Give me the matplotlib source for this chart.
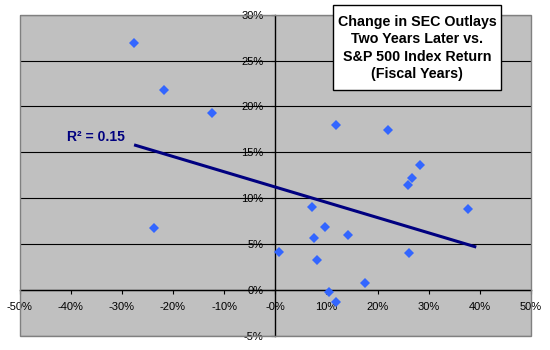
import numpy as np
import matplotlib
matplotlib.use('Agg')
import matplotlib.pyplot as plt
from matplotlib.patches import Rectangle
from matplotlib.ticker import PercentFormatter

plt.rcParams['font.family'] = ['Liberation Sans', 'DejaVu Sans']
plt.rcParams['axes.unicode_minus'] = False

# S&P 500 index return (x) vs change in SEC outlays two years later (y)
sp500_return = [-0.276, -0.217, -0.123, -0.238, 0.008, 0.118, 0.221, 0.283, 0.267, 0.259,
                0.072, 0.376, 0.098, 0.076, 0.142, 0.262, 0.081, 0.175, 0.105, 0.118]
sec_outlay_change = [0.269, 0.218, 0.193, 0.067, 0.041, 0.180, 0.174, 0.136, 0.122, 0.1145,
                     0.090, 0.088, 0.068, 0.056, 0.060, 0.040, 0.033, 0.007, -0.0025, -0.013]
r2_label = 'R² = 0.15'
title_lines = ['Change in SEC Outlays', 'Two Years Later vs.', 'S&P 500 Index Return', '(Fiscal Years)']
x_ticks = np.arange(-0.5, 0.51, 0.1)
y_ticks = np.arange(-0.05, 0.301, 0.05)

fig = plt.figure(figsize=(5.5, 3.5), dpi=100)
fig.patch.set_facecolor('white')
ax = fig.add_axes([19.5 / 550, 1 - 335.7 / 350, 511.5 / 550, 321 / 350])
ax.set_facecolor('#C0C0C0')

ax.set_xlim(-0.5, 0.5)
ax.set_ylim(-0.05, 0.30)

# axes cross at zero
ax.spines['left'].set_position(('data', 0))
ax.spines['bottom'].set_position(('data', 0))
for s in ['left', 'bottom']:
    ax.spines[s].set_color('black')
    ax.spines[s].set_linewidth(1.0)
for s in ['top', 'right']:
    ax.spines[s].set_visible(False)
ax.add_patch(Rectangle((0, 0), 1, 1, transform=ax.transAxes, fill=False,
                       edgecolor='#808080', linewidth=1.0, clip_on=False, zorder=5))

ax.yaxis.grid(True, color='black', linewidth=0.8)
ax.set_axisbelow(True)

ax.set_xticks(x_ticks)
ax.set_yticks(y_ticks)
ax.xaxis.set_major_formatter(PercentFormatter(1.0, decimals=0))
ax.yaxis.set_major_formatter(PercentFormatter(1.0, decimals=0))
ax.tick_params(axis='x', direction='out', length=3, width=0.8, pad=6, labelsize=8, colors='black')
ax.tick_params(axis='y', direction='out', length=3, width=0.8, pad=5.5, labelsize=8, colors='black')

# scatter points
ax.plot(sp500_return, sec_outlay_change, linestyle='none', marker='D', markersize=5.5,
        markerfacecolor='#3366FF', markeredgewidth=0, zorder=3)

# linear trend line
slope, intercept = np.polyfit(sp500_return, sec_outlay_change, 1)
tx = np.array([min(sp500_return), max(sp500_return) + 0.017])
ax.plot(tx, slope * tx + intercept, color='#000080', linewidth=2.2, zorder=4,
        solid_capstyle='butt')

ax.text(-0.407, 0.1625, r2_label, color='#000080', fontsize=10, fontweight='bold',
        ha='left', va='baseline')

# title box
fig.add_artist(Rectangle((333 / 550, 1 - 90 / 350), 168 / 550, 85 / 350,
                         transform=fig.transFigure, facecolor='white',
                         edgecolor='black', linewidth=1.0, zorder=10))
fig.text(417 / 550, 1 - 48 / 350, '\n'.join(title_lines), ha='center', va='center',
         multialignment='center', fontsize=10.3, fontweight='bold', linespacing=1.3,
         zorder=11)

fig.savefig('out.png', dpi=100)
